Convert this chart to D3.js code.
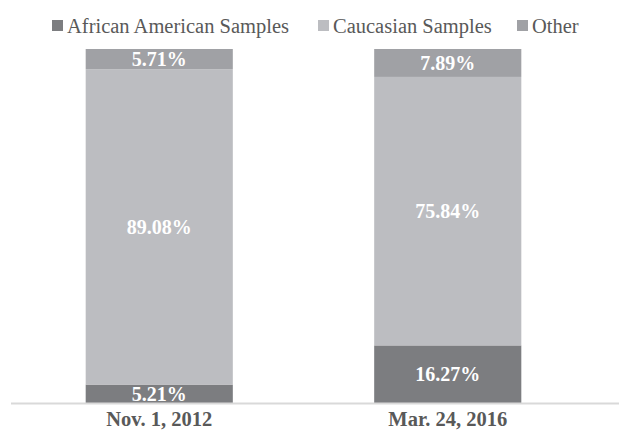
<!DOCTYPE html>
<html>
<head>
<meta charset="utf-8">
<script src="https://cdn.jsdelivr.net/npm/d3@7"></script>
<style>
  body { margin: 0; background: #fff; }
  svg text { font-family: "Liberation Serif", "DejaVu Serif", serif; }
</style>
</head>
<body>
<div id="chart"></div>
<script>
// data
var categories = ["Nov. 1, 2012", "Mar. 24, 2016"];
var seriesNames = ["African American Samples", "Caucasian Samples", "Other"];
var african = [5.21, 16.27];
var caucasian = [89.08, 75.84];
var other = [5.71, 7.89];

var colors = ["#7c7d80", "#bcbdc1", "#a0a1a5"];

var width = 619, height = 430;
var plotTop = 49, plotBottom = 403;

var rows = categories.map(function(c, i) {
  return { cat: c, "African American Samples": african[i], "Caucasian Samples": caucasian[i], "Other": other[i] };
});

var stack = d3.stack().keys(seriesNames);
var layers = stack(rows);

var x = d3.scaleBand().domain(categories).range([15, 592]).paddingInner(0.49).paddingOuter(0.245);
var y = d3.scaleLinear().domain([0, 100]).range([plotBottom, plotTop]);

var svg = d3.select('#chart')
    .append('svg')
    .attr('width', width)
    .attr('height', height)
    .style('display', 'block');

var g = svg.selectAll('g.layer')
    .data(layers)
    .enter().append('g')
    .attr('class', 'layer')
    .attr('fill', function(d, i) { return colors[i]; });

g.selectAll('rect')
    .data(function(d) { return d; })
    .enter().append('rect')
    .attr('x', function(d) { return x(d.data.cat); })
    .attr('y', function(d) { return y(d[1]); })
    .attr('width', x.bandwidth())
    .attr('height', function(d) { return y(d[0]) - y(d[1]); });

// value labels
layers.forEach(function(layer) {
  svg.selectAll(null)
      .data(layer)
      .enter().append('text')
      .attr('x', function(d) { return x(d.data.cat) + x.bandwidth() / 2; })
      .attr('y', function(d) { return (y(d[0]) + y(d[1])) / 2; })
      .attr('dy', '0.35em')
      .attr('text-anchor', 'middle')
      .attr('fill', '#fff')
      .attr('font-weight', 'bold')
      .attr('font-size', '20px')
      .text(function(d) { return (d[1] - d[0]).toFixed(2) + '%'; });
});

// axis line
svg.append('line')
    .attr('x1', 11).attr('x2', 619)
    .attr('y1', plotBottom + 0.5).attr('y2', plotBottom + 0.5)
    .attr('stroke', '#d9d9d9')
    .attr('stroke-width', 2);

var xAxis = svg.append('g')
    .attr('transform', 'translate(0,' + plotBottom + ')')
    .call(d3.axisBottom(x).tickSize(0).tickPadding(8));
xAxis.select('.domain').remove();
xAxis.selectAll('text')
    .attr('font-size', '20.5px')
    .attr('font-weight', 'bold')
    .attr('fill', '#595959');

// legend
var legendX = [52, 318, 517];
var legend = svg.selectAll('g.legend')
    .data(seriesNames)
    .enter().append('g')
    .attr('class', 'legend')
    .attr('transform', function(d, i) { return 'translate(' + legendX[i] + ',20)'; });
legend.append('rect')
    .attr('width', 11).attr('height', 11)
    .attr('fill', function(d, i) { return colors[i]; });
legend.append('text')
    .attr('x', 15).attr('y', 6)
    .attr('dy', '0.35em')
    .attr('font-size', '20.5px')
    .attr('fill', '#595959')
    .text(function(d) { return d; });
</script>
</body>
</html>
